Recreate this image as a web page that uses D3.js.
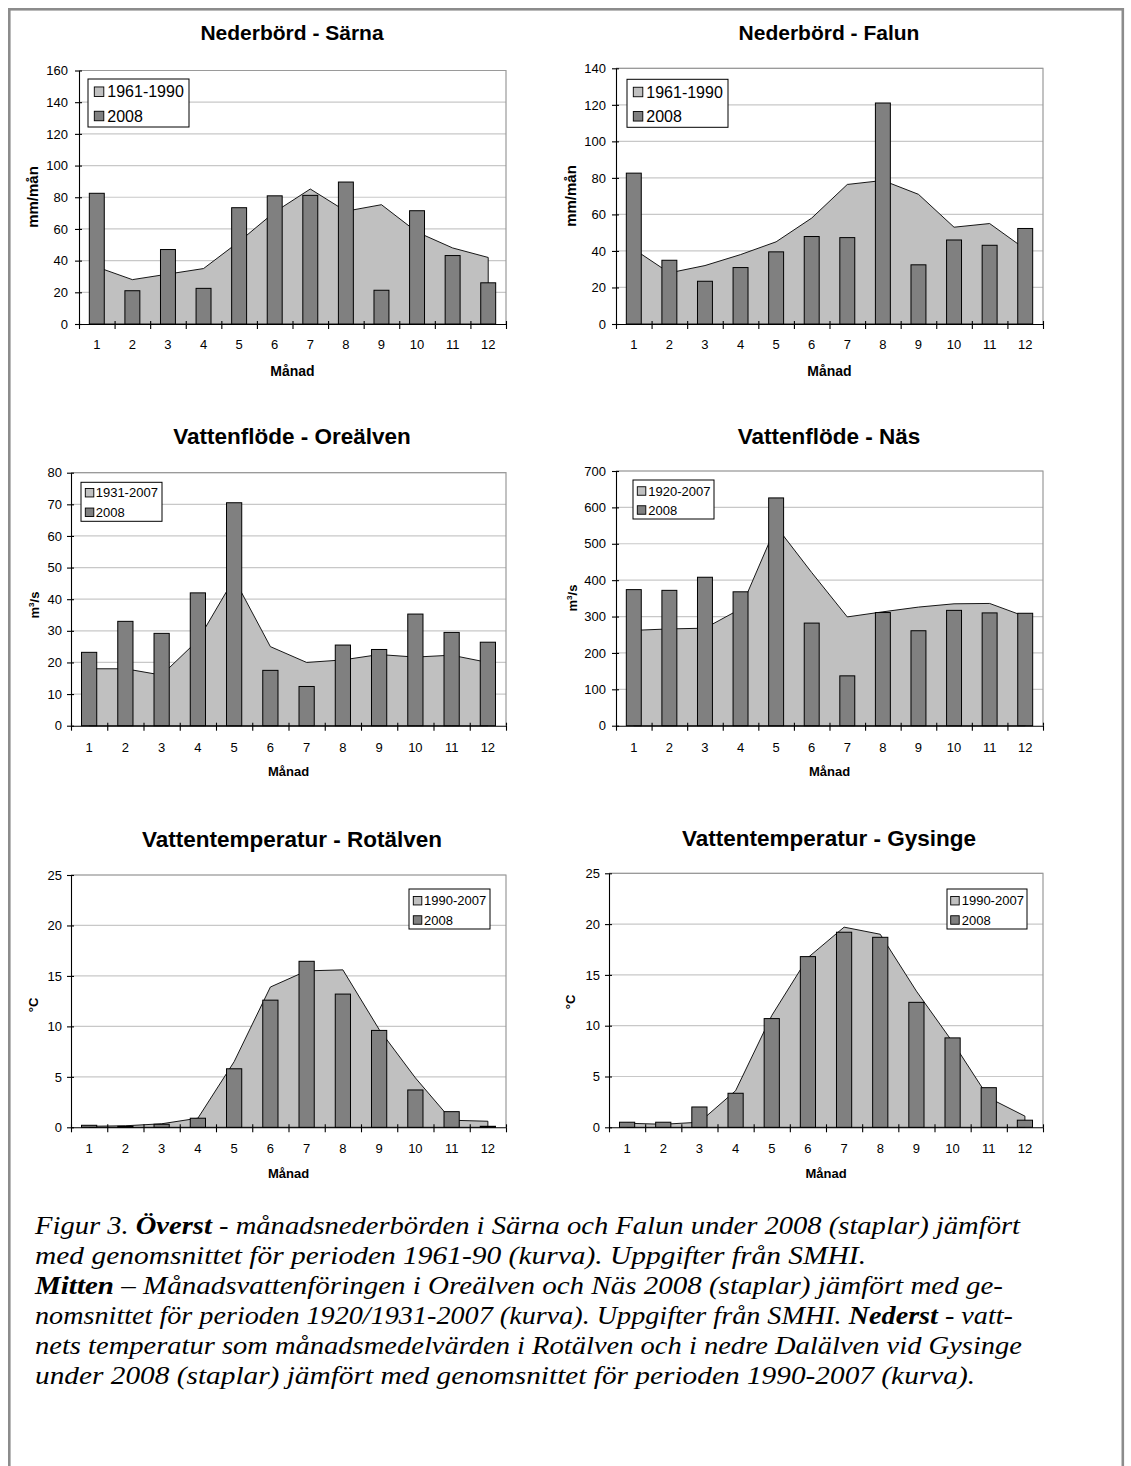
<!DOCTYPE html>
<html><head><meta charset="utf-8">
<script src="https://cdn.jsdelivr.net/npm/d3@7"></script>
<style>
body{margin:0;background:#fff}
text{font-family:"Liberation Sans",Arial,sans-serif;fill:#000}
</style>
</head><body>
<svg id="c" width="1131" height="1466"></svg>
<script>
// ---------- DATA ----------
const months = [1,2,3,4,5,6,7,8,9,10,11,12];

const sarnaNormal = [36,28,31.5,35,52,70.7,85.2,71.2,75.3,58,48,42];
const sarna2008   = [82.5,21,47,22.5,73.4,80.9,81.2,89.6,21.3,71.5,43.2,26];
const sarnaTicks  = [0,20,40,60,80,100,120,140,160];

const falunNormal = [41,28,32,38,45,58,76.4,78.6,71,53,55,41];
const falun2008   = [82.6,34.9,23.4,30.9,39.5,47.9,47.3,121,32.4,46,43.1,52.3];
const falunTicks  = [0,20,40,60,80,100,120,140];

const oreNormal = [18,18,16,27,46.5,25,20,20.8,22.5,21.7,22.3,20];
const ore2008   = [23.2,33,29.2,42,70.5,17.5,12.4,25.5,24.1,35.3,29.5,26.4];
const oreTicks  = [0,10,20,30,40,50,60,70,80];

const nasNormal = [262,266,268,321,548,421,299,313,326,335,336,300];
const nas2008   = [374,372,408,368,626,282,137,311,261,317,310,309];
const nasTicks  = [0,100,200,300,400,500,600,700];

const rotNormal = [0.1,0.15,0.35,0.9,6.5,13.9,15.5,15.6,9.7,4.9,0.7,0.6];
const rot2008   = [0.2,0.1,0.3,0.9,5.8,12.6,16.45,13.2,9.6,3.7,1.55,0.1];
const rotTicks  = [0,5,10,15,20,25];

const gysNormal = [0.4,0.3,0.5,3.6,11,16.7,19.7,19,13.4,8.4,2.9,1.1];
const gys2008   = [0.5,0.5,2,3.35,10.7,16.8,19.2,18.7,12.3,8.8,3.9,0.7];
const gysTicks  = [0,5,10,15,20,25];

const xLabel = "Månad";
const captionLines = [
  [["Figur 3. ",false],["Överst",true],[" - månadsnederbörden i Särna och Falun under 2008 (staplar) jämfört",false]],
  [["med genomsnittet för perioden 1961-90 (kurva). Uppgifter från SMHI.",false]],
  [["Mitten",true],[" – Månadsvattenföringen i Oreälven och Näs 2008 (staplar) jämfört med ge-",false]],
  [["nomsnittet för perioden 1920/1931-2007 (kurva). Uppgifter från SMHI. ",false],["Nederst",true],[" - vatt-",false]],
  [["nets temperatur som månadsmedelvärden i Rotälven och i nedre Dalälven vid Gysinge",false]],
  [["under 2008 (staplar) jämfört med genomsnittet för perioden 1990-2007 (kurva).",false]]
];

// ---------- LAYOUT ----------
const panels = [
  {title:"Nederbörd - Särna", normal:sarnaNormal, cur:sarna2008, ticks:sarnaTicks, leg:["1961-1990","2008"], yl:"mm/mån",
   x0:79,x1:506,y0:70.5,y1:324, tx:292,ty:40,tfs:21, lgap:11, xpad:16, mx:292.5,my:376,mfs:14,
   ylx:38,yly:197,ylfs:15, L:{x:88,y:79,w:101,h:48,fs:16,sw:9.5,sx:6.3,tx:19.3,r1:12.7,r2:37}},
  {title:"Nederbörd - Falun", normal:falunNormal, cur:falun2008, ticks:falunTicks, leg:["1961-1990","2008"], yl:"mm/mån",
   x0:616,x1:1043,y0:68.3,y1:324, tx:829,ty:40,tfs:21, lgap:10, xpad:16, mx:829.5,my:376,mfs:14,
   ylx:576,yly:196,ylfs:15, L:{x:627,y:79.3,w:101,h:48,fs:16,sw:9.5,sx:6.3,tx:19.3,r1:12.7,r2:37}},
  {title:"Vattenflöde - Oreälven", normal:oreNormal, cur:ore2008, ticks:oreTicks, leg:["1931-2007","2008"], yl:"m3/s",
   x0:71,x1:506,y0:472.7,y1:725.7, tx:292,ty:444,tfs:22.5, lgap:9, xpad:17, mx:288.5,my:776,mfs:13,
   ylx:39,yly:605,ylfs:13, L:{x:81,y:482.3,w:81,h:39,fs:13,sw:8.5,sx:4.3,tx:14.7,r1:10.4,r2:30}},
  {title:"Vattenflöde - Näs", normal:nasNormal, cur:nas2008, ticks:nasTicks, leg:["1920-2007","2008"], yl:"m3/s",
   x0:616,x1:1043,y0:471,y1:725.7, tx:829,ty:444,tfs:22.5, lgap:10, xpad:17, mx:829.5,my:776,mfs:13,
   ylx:577,yly:598,ylfs:13, L:{x:633,y:480,w:81,h:39,fs:13,sw:8.5,sx:4.3,tx:15.3,r1:11,r2:30}},
  {title:"Vattentemperatur - Rotälven", normal:rotNormal, cur:rot2008, ticks:rotTicks, leg:["1990-2007","2008"], yl:"°C",
   x0:71,x1:506,y0:875,y1:1127.3, tx:292,ty:847,tfs:22.5, lgap:9, xpad:16.5, mx:288.5,my:1178,mfs:13,
   ylx:38,yly:1005,ylfs:13, L:{x:409,y:889,w:81,h:40,fs:13,sw:8.5,sx:4.3,tx:15,r1:11.7,r2:31}},
  {title:"Vattentemperatur - Gysinge", normal:gysNormal, cur:gys2008, ticks:gysTicks, leg:["1990-2007","2008"], yl:"°C",
   x0:609,x1:1043,y0:873.3,y1:1127.3, tx:829,ty:846,tfs:22.5, lgap:9, xpad:16.5, mx:826,my:1178,mfs:13,
   ylx:575,yly:1002,ylfs:13, L:{x:947,y:889,w:80,h:40,fs:13,sw:8.5,sx:3.7,tx:14.7,r1:11.7,r2:31}}
];

const svg = d3.select("#c");
svg.append("rect").attr("width",1131).attr("height",1466).attr("fill","#fff");
// outer frame
svg.append("rect").attr("x",9.3).attr("y",9.3).attr("width",1113.5).attr("height",1500)
  .attr("fill","none").attr("stroke","#8c8c8c").attr("stroke-width",2.6);

const LIGHT="#c0c0c0", DARK="#808080";

panels.forEach(p=>{
  const g = svg.append("g");
  const x = d3.scaleBand().domain(months).range([p.x0,p.x1]).padding(0);
  const xb = d3.scaleLinear().domain([0,months.length]).range([p.x0,p.x1]);
  const y = d3.scaleLinear().domain([0,d3.max(p.ticks)]).range([p.y1,p.y0]);
  const cx = m => x(m)+x.bandwidth()/2;

  // gridlines
  g.append("g").selectAll("line").data(p.ticks.filter(t=>t>0)).join("line")
    .attr("x1",p.x0).attr("x2",p.x1).attr("y1",d=>y(d)).attr("y2",d=>y(d))
    .attr("stroke","#c8c8c8").attr("stroke-width",1.2);
  // plot border top/right
  g.append("path").attr("d",`M${p.x0},${y(d3.max(p.ticks))}H${p.x1}V${y(0)}`)
    .attr("fill","none").attr("stroke","#9a9a9a").attr("stroke-width",1.2);

  // area (long-term mean)
  const area = d3.area().x((d,i)=>cx(months[i])).y0(y(0)).y1(d=>y(d));
  g.append("path").datum(p.normal).attr("d",area)
    .attr("fill",LIGHT).attr("stroke","#000").attr("stroke-width",0.9).attr("stroke-linejoin","round");

  // bars 2008
  const bw = x.bandwidth()*0.42;
  g.append("g").selectAll("rect").data(p.cur).join("rect")
    .attr("x",(d,i)=>cx(months[i])-bw/2).attr("width",bw)
    .attr("y",d=>y(d)).attr("height",d=>y(0)-y(d))
    .attr("fill",DARK).attr("stroke","#000").attr("stroke-width",1);

  // y axis
  const ya = g.append("g").attr("transform",`translate(${p.x0},0)`)
    .call(d3.axisLeft(y).tickValues(p.ticks).tickSizeInner(4).tickSizeOuter(0).tickPadding(p.lgap-4));
  g.append("g").attr("transform",`translate(${p.x0},0)`)
    .call(d3.axisLeft(y).tickValues(p.ticks).tickSizeInner(-3).tickSizeOuter(0).tickFormat(""))
    .select(".domain").remove();
  ya.selectAll("text").attr("font-size",13).style("font-family","'Liberation Sans',Arial,sans-serif");

  // x axis: boundary ticks (crossing) + centred labels
  g.append("g").attr("transform",`translate(0,${y(0)})`)
    .call(d3.axisBottom(xb).tickValues(d3.range(months.length+1)).tickSizeInner(5).tickSizeOuter(0).tickFormat(""));
  g.append("g").attr("transform",`translate(0,${y(0)})`)
    .call(d3.axisBottom(xb).tickValues(d3.range(months.length+1)).tickSizeInner(-3).tickSizeOuter(0).tickFormat(""))
    .select(".domain").remove();
  const xl = g.append("g").attr("transform",`translate(0,${y(0)})`)
    .call(d3.axisBottom(x).tickSize(0).tickPadding(p.xpad));
  xl.select(".domain").remove();
  xl.selectAll("text").attr("font-size",13).style("font-family","'Liberation Sans',Arial,sans-serif");
  g.selectAll(".domain,.tick line").attr("stroke","#000").attr("stroke-width",1.1);

  // title
  g.append("text").attr("x",p.tx).attr("y",p.ty).attr("text-anchor","middle")
    .attr("font-size",p.tfs).attr("font-weight","bold").text(p.title);
  // x label
  g.append("text").attr("x",p.mx).attr("y",p.my).attr("text-anchor","middle")
    .attr("font-size",p.mfs).attr("font-weight","bold").text(xLabel);
  // y label
  const yt = g.append("text").attr("transform",`translate(${p.ylx},${p.yly}) rotate(-90)`)
    .attr("text-anchor","middle").attr("font-size",p.ylfs).attr("font-weight","bold");
  if(p.yl==="m3/s"){
    yt.append("tspan").text("m");
    yt.append("tspan").attr("font-size",p.ylfs*0.62).attr("dy",-p.ylfs*0.42).text("3");
    yt.append("tspan").attr("dy",p.ylfs*0.42).text("/s");
  } else yt.text(p.yl);

  // legend
  const L = p.L;
  const lg = g.append("g").attr("transform",`translate(${L.x},${L.y})`);
  lg.append("rect").attr("width",L.w).attr("height",L.h).attr("fill","#fff").attr("stroke","#000").attr("stroke-width",1);
  [[p.leg[0],LIGHT,L.r1],[p.leg[1],DARK,L.r2]].forEach(([lab,col,ry])=>{
    lg.append("rect").attr("x",L.sx).attr("y",ry-L.sw/2).attr("width",L.sw).attr("height",L.sw)
      .attr("fill",col).attr("stroke","#000").attr("stroke-width",0.9);
    lg.append("text").attr("x",L.tx).attr("y",ry+L.fs*0.36).attr("font-size",L.fs).text(lab);
  });
});

// caption
const cap = svg.append("g");
const capX = 35, capY0 = 1234, capDY = 30, capFs = 26;
const capWidths = [985, 831, 968, 978, 987, 940];
captionLines.forEach((segs,i)=>{
  const t = cap.append("text").attr("x",capX).attr("y",capY0+i*capDY)
    .style("font-family","'Liberation Serif','Times New Roman',serif").attr("font-style","italic").attr("font-size",capFs)
    .attr("textLength",capWidths[i]).attr("lengthAdjust","spacingAndGlyphs");
  segs.forEach(([s,b])=>{ const ts=t.append("tspan").text(s); if(b) ts.attr("font-weight","bold"); });
});
</script>
</body></html>
